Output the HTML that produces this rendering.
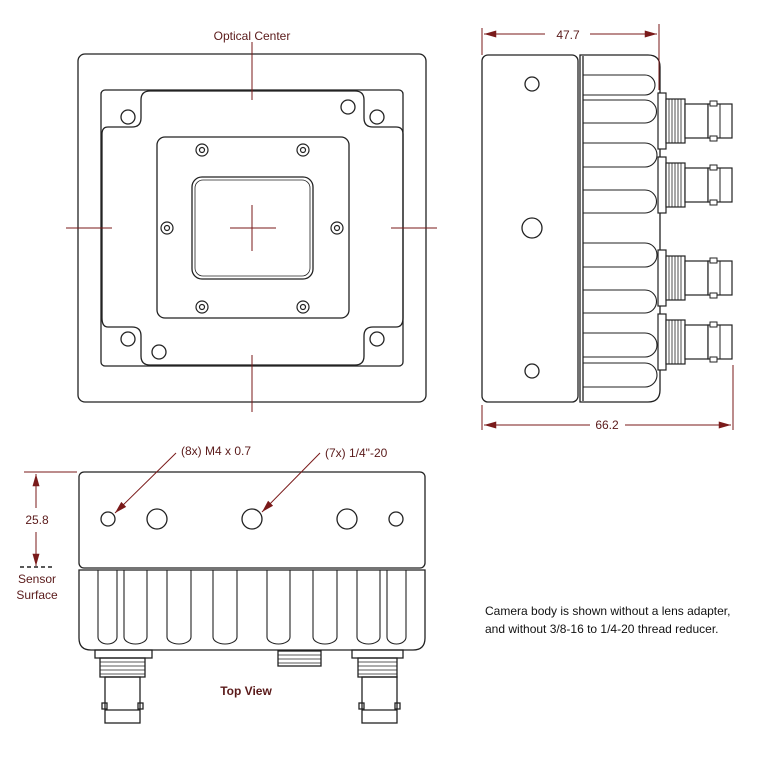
<!DOCTYPE html>
<html><head><meta charset="utf-8"><style>
html,body{margin:0;padding:0;background:#fff;}
svg{display:block;}
text{font-family:"Liberation Sans",sans-serif;fill:#5a1a1a;}
</style></head><body>
<svg width="760" height="767" viewBox="0 0 760 767" xmlns="http://www.w3.org/2000/svg">
<defs>
<marker id="ar" viewBox="0 0 14 8" refX="14" refY="4" markerWidth="14" markerHeight="7" orient="auto-start-reverse" markerUnits="userSpaceOnUse"><path d="M0,0 L14,4 L0,8 z" fill="#7a1a1a"/></marker>
<g id="bnc">
<rect x="658" y="-28" width="8" height="56" fill="#fff" stroke="#222" stroke-width="1.2"/>
<rect x="666" y="-22" width="19" height="44" fill="#fff" stroke="#222" stroke-width="1.2"/>
<path d="M669,-22v44M672,-22v44M675,-22v44M678,-22v44M681,-22v44" stroke="#222" stroke-width="0.8"/>
<rect x="685" y="-17" width="23" height="34" fill="#fff" stroke="#222" stroke-width="1.2"/>
<rect x="708" y="-17" width="24" height="34" fill="#fff" stroke="#222" stroke-width="1.2"/>
<line x1="720" y1="-17" x2="720" y2="17" stroke="#222" stroke-width="1"/>
<rect x="710" y="-20" width="7" height="5" fill="#fff" stroke="#222" stroke-width="1"/>
<rect x="710" y="15" width="7" height="5" fill="#fff" stroke="#222" stroke-width="1"/>
</g>
</defs>
<g fill="none" stroke="#222" stroke-width="1.3">
<rect x="78" y="54" width="348" height="348" rx="7"/>
<rect x="101" y="90" width="302" height="276" rx="4"/>
<path d="M150,91 H355 Q364,91 364,100 V118 Q364,127 373,127 H396 Q403,127 403,134 V318 Q403,327 396,327 H373 Q364,327 364,336 V356 Q364,365 355,365 H150 Q141,365 141,356 V336 Q141,327 132,327 H108 Q102,327 102,318 V134 Q102,127 108,127 H132 Q141,127 141,118 V100 Q141,91 150,91 Z"/>
<circle cx="128" cy="117" r="7"/><circle cx="348" cy="107" r="7"/><circle cx="377" cy="117" r="7"/>
<circle cx="128" cy="339" r="7"/><circle cx="159" cy="352" r="7"/><circle cx="377" cy="339" r="7"/>
<rect x="157" y="137" width="192" height="181" rx="8"/>
<g stroke-width="1.2">
<circle cx="202" cy="150" r="6"/><circle cx="202" cy="150" r="2.5"/>
<circle cx="303" cy="150" r="6"/><circle cx="303" cy="150" r="2.5"/>
<circle cx="167" cy="228" r="6"/><circle cx="167" cy="228" r="2.5"/>
<circle cx="337" cy="228" r="6"/><circle cx="337" cy="228" r="2.5"/>
<circle cx="202" cy="307" r="6"/><circle cx="202" cy="307" r="2.5"/>
<circle cx="303" cy="307" r="6"/><circle cx="303" cy="307" r="2.5"/>
</g>
<rect x="192" y="177" width="121" height="102" rx="10"/>
<rect x="195" y="180" width="115" height="96" rx="8" stroke-width="0.8"/>
<rect x="482" y="55" width="96" height="347" rx="6"/>
<circle cx="532" cy="84" r="7"/><circle cx="532" cy="228" r="10"/><circle cx="532" cy="371" r="7"/>
<path d="M580,55 H648 Q660,55 660,67 V390 Q660,402 648,402 H580 Z"/>
<line x1="583" y1="56" x2="583" y2="401"/>
<g stroke-width="1.1">
<path d="M583,75 H645 a10,10 0 0 1 0,20 H583"/>
<path d="M583,100 H645 a11.5,11.5 0 0 1 0,23 H583"/>
<path d="M583,143 H645 a12,12 0 0 1 0,24 H583"/>
<path d="M583,190 H645 a11.5,11.5 0 0 1 0,23 H583"/>
<path d="M583,243 H645 a12,12 0 0 1 0,24 H583"/>
<path d="M583,290 H645 a11.5,11.5 0 0 1 0,23 H583"/>
<path d="M583,333 H645 a12,12 0 0 1 0,24 H583"/>
<path d="M583,363 H645 a12,12 0 0 1 0,24 H583"/>
</g>
<rect x="79" y="472" width="346" height="96" rx="5"/>
<circle cx="108" cy="519" r="7"/><circle cx="157" cy="519" r="10"/><circle cx="252" cy="519" r="10"/><circle cx="347" cy="519" r="10"/><circle cx="396" cy="519" r="7"/>
<path d="M79,570 H425 V638 Q425,650 413,650 H91 Q79,650 79,638 Z"/>
<g stroke-width="1.1">
<path d="M98,570 V637 a9.5,7 0 0 0 19,0 V570"/>
<path d="M124,570 V637 a11.5,7 0 0 0 23,0 V570"/>
<path d="M167,570 V637 a12,7 0 0 0 24,0 V570"/>
<path d="M213,570 V637 a12,7 0 0 0 24,0 V570"/>
<path d="M267,570 V637 a11.5,7 0 0 0 23,0 V570"/>
<path d="M313,570 V637 a12,7 0 0 0 24,0 V570"/>
<path d="M357,570 V637 a11.5,7 0 0 0 23,0 V570"/>
<path d="M387,570 V637 a9.5,7 0 0 0 19,0 V570"/>
</g>
<rect x="95" y="650" width="57" height="8"/>
<rect x="100" y="658" width="45" height="19"/>
<path d="M100,662h45M100,666h45M100,670h45M100,674h45" stroke-width="0.8"/>
<rect x="105" y="677" width="35" height="46"/>
<line x1="105" y1="710" x2="140" y2="710"/>
<rect x="102" y="703" width="5" height="6"/><rect x="138" y="703" width="5" height="6"/>
<rect x="352" y="650" width="51" height="8"/>
<rect x="358" y="658" width="39" height="19"/>
<path d="M358,662h39M358,666h39M358,670h39M358,674h39" stroke-width="0.8"/>
<rect x="362" y="677" width="35" height="46"/>
<line x1="362" y1="710" x2="397" y2="710"/>
<rect x="359" y="703" width="5" height="6"/><rect x="395" y="703" width="5" height="6"/>
<rect x="278" y="651" width="43" height="15"/>
<path d="M278,655h43M278,659h43M278,663h43" stroke-width="0.8"/>
</g>
<use href="#bnc" y="121"/><use href="#bnc" y="185"/><use href="#bnc" y="278"/><use href="#bnc" y="342"/>
<g stroke="#7a1a1a" stroke-width="1" fill="none">
<line x1="252" y1="42" x2="252" y2="100"/><line x1="252" y1="355" x2="252" y2="412"/>
<line x1="66" y1="228" x2="112" y2="228"/><line x1="391" y1="228" x2="437" y2="228"/>
<line x1="230" y1="228" x2="276" y2="228"/><line x1="252" y1="205" x2="252" y2="251"/>
<line x1="482" y1="28" x2="482" y2="55"/><line x1="659" y1="24" x2="659" y2="90"/>
<line x1="484" y1="34" x2="545" y2="34" marker-start="url(#ar)"/><line x1="590" y1="34" x2="657" y2="34" marker-end="url(#ar)"/>
<line x1="482" y1="405" x2="482" y2="430"/><line x1="733" y1="365" x2="733" y2="430"/>
<line x1="484" y1="425" x2="590" y2="425" marker-start="url(#ar)"/><line x1="625" y1="425" x2="731" y2="425" marker-end="url(#ar)"/>
<line x1="24" y1="472" x2="77" y2="472"/>
<line x1="36" y1="474" x2="36" y2="508" marker-start="url(#ar)"/><line x1="36" y1="532" x2="36" y2="566" marker-end="url(#ar)"/>
<line x1="176" y1="453" x2="115" y2="513" marker-end="url(#ar)"/>
<line x1="320" y1="453" x2="262" y2="512" marker-end="url(#ar)"/>
</g>
<line x1="20" y1="567" x2="53" y2="567" stroke="#222" stroke-width="1.5" stroke-dasharray="4,3"/>
<text x="252" y="40" font-size="12" text-anchor="middle">Optical Center</text>
<text x="568" y="39" font-size="12" text-anchor="middle">47.7</text>
<text x="607" y="429" font-size="12" text-anchor="middle">66.2</text>
<text x="181" y="455" font-size="12">(8x) M4 x 0.7</text>
<text x="325" y="457" font-size="12">(7x) 1/4"-20</text>
<text x="37" y="524" font-size="12" text-anchor="middle">25.8</text>
<text x="37" y="583" font-size="12" text-anchor="middle">Sensor</text>
<text x="37" y="599" font-size="12" text-anchor="middle">Surface</text>
<text x="246" y="695" font-size="12" font-weight="bold" text-anchor="middle">Top View</text>
<text x="485" y="615" font-size="12" style="fill:#111">Camera body is shown without a lens adapter,</text>
<text x="485" y="633" font-size="12" style="fill:#111">and without 3/8-16 to 1/4-20 thread reducer.</text>
</svg>
</body></html>
